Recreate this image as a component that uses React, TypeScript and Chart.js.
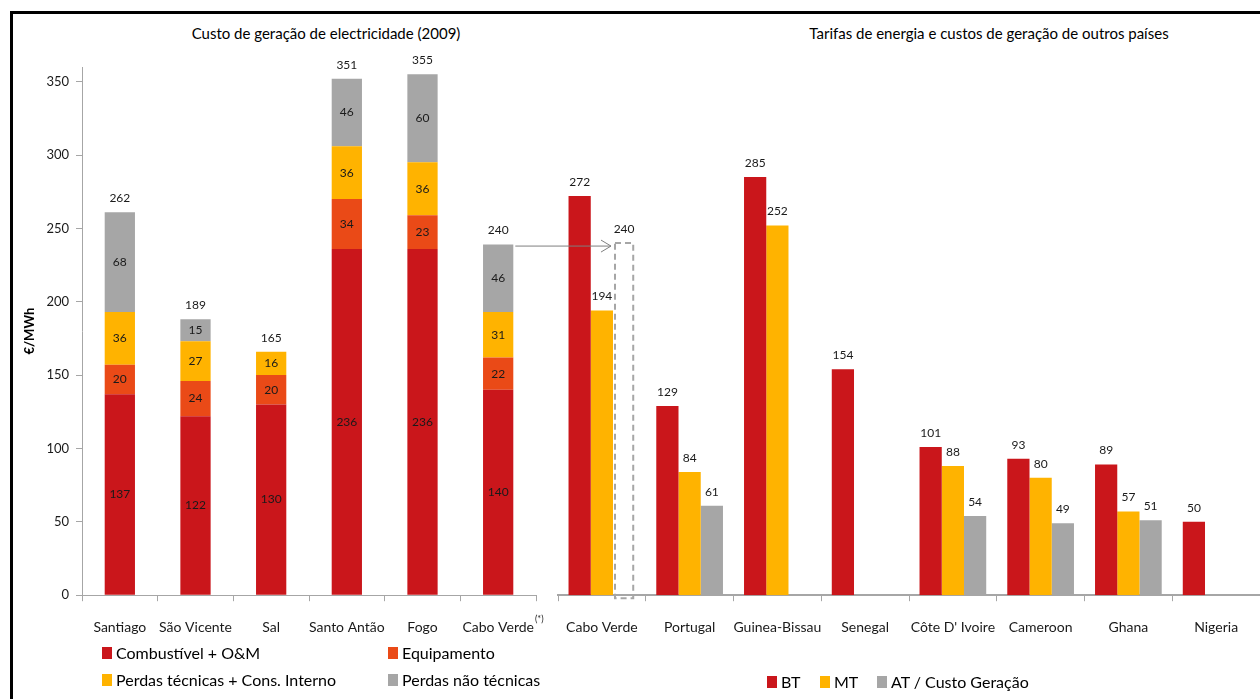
import React, { useEffect, useRef } from "react";
import { Chart, registerables } from "chart.js";

Chart.register(...registerables);

// ---------- data ----------
const islands = ["Santiago", "São Vicente", "Sal", "Santo Antão", "Fogo", "Cabo Verde"];
const combustivel = [137, 122, 130, 236, 236, 140];
const equipamento = [20, 24, 20, 34, 23, 22];
const perdasTecnicas = [36, 27, 16, 36, 36, 31];
const perdasNaoTecnicas = [68, 15, null, 46, 60, 46];
const islandTotals = [262, 189, 165, 351, 355, 240];
const leftSeriesNames = ["Combustível + O&M", "Equipamento", "Perdas técnicas + Cons. Interno", "Perdas não técnicas"];

const countries = ["Cabo Verde", "Portugal", "Guinea-Bissau", "Senegal", "Côte D' Ivoire", "Cameroon", "Ghana", "Nigeria"];
const bt = [272, 129, 285, 154, 101, 93, 89, 50];
const mt = [194, 84, 252, null, 88, 80, 57, null];
const at = [240, 61, null, null, 54, 49, 51, null];
const rightSeriesNames = ["BT", "MT", "AT / Custo Geração"];
const referenceIndex = 0; // AT of Cabo Verde = generation cost from left chart (dashed)

const yTickValues = [0, 50, 100, 150, 200, 250, 300, 350];
const leftTitle = "Custo de geração de electricidade (2009)";
const rightTitle = "Tarifas de energia e custos de geração de outros países";
const yAxisTitle = "€/MWh";

// ---------- styles ----------
const RED = "#CA161B";
const ORANGE = "#EA4A17";
const YELLOW = "#FFB300";
const GRAY = "#A6A6A6";
const AXIS = "#A6A6A6";
const TEXT = "#1a1a1a";
const FONT = "Lato";

const LEFT_X = 0;
const LEFT_W = 545;
const RIGHT_X = 500;
const RIGHT_W = 760;
const H = 699;
const PAD_TOP = 67;
const PAD_BOTTOM = 45;
const TICK_PAD = 18;

const leftLabelsPlugin = {
  id: "leftLabels",
  afterDatasetsDraw(chart: any) {
    const ctx = chart.ctx;
    ctx.save();
    ctx.fillStyle = TEXT;
    ctx.textAlign = "center";
    ctx.textBaseline = "middle";
    ctx.font = `12px ${FONT}`;
    const n = chart.data.labels.length;
    for (let i = 0; i < n; i++) {
      let top = Infinity;
      let cx = 0;
      chart.data.datasets.forEach((ds: any, di: number) => {
        const v = ds.data[i];
        if (v == null) return;
        const el = chart.getDatasetMeta(di).data[i];
        ctx.fillText(String(v), el.x, (el.y + el.base) / 2);
        top = Math.min(top, el.y);
        cx = el.x;
      });
      ctx.fillText(String(islandTotals[i]), cx, top - 14);
    }
    // superscript on last category label
    const xs = chart.scales.x;
    ctx.font = `14px ${FONT}`;
    const w = ctx.measureText(String(chart.data.labels[n - 1])).width;
    ctx.font = `9px ${FONT}`;
    ctx.textAlign = "left";
    ctx.fillText("(*)", xs.getPixelForTick(n - 1) + w / 2 + 1, xs.top + 6 + TICK_PAD);
    ctx.restore();
  },
};

export default function App() {
  const leftRef = useRef<HTMLCanvasElement>(null);
  const rightRef = useRef<HTMLCanvasElement>(null);

  useEffect(() => {
    document.body.style.margin = "0";
    const xAxis = (borderWidth: number) => ({
      grid: { offset: true, drawOnChartArea: false, tickLength: 6, color: AXIS },
      border: { color: AXIS, width: borderWidth },
      ticks: { font: { family: FONT, size: 14 }, color: TEXT, padding: TICK_PAD, maxRotation: 0, autoSkip: false },
      afterFit: (s: any) => {
        s.paddingLeft = 0;
        s.paddingRight = 0;
      },
    });

    const left = new Chart(leftRef.current as HTMLCanvasElement, {
      type: "bar",
      data: {
        labels: islands,
        datasets: [
          { label: leftSeriesNames[0], data: combustivel, backgroundColor: RED },
          { label: leftSeriesNames[1], data: equipamento, backgroundColor: ORANGE },
          { label: leftSeriesNames[2], data: perdasTecnicas, backgroundColor: YELLOW },
          { label: leftSeriesNames[3], data: perdasNaoTecnicas, backgroundColor: GRAY },
        ],
      },
      options: {
        responsive: false,
        animation: false,
        layout: { padding: { top: PAD_TOP, left: 18, right: 9, bottom: PAD_BOTTOM } },
        plugins: { legend: { display: false }, title: { display: false }, tooltip: { enabled: false } },
        datasets: { bar: { barPercentage: 0.4, categoryPercentage: 1 } },
        scales: {
          x: { stacked: true, ...xAxis(1) },
          y: {
            stacked: true,
            min: 0,
            max: 360,
            afterBuildTicks: (s: any) => {
              s.ticks = yTickValues.map((v) => ({ value: v }));
            },
            afterFit: (s: any) => {
              s.width = 64;
            },
            grid: { drawOnChartArea: false, tickLength: 6, color: AXIS },
            border: { color: AXIS },
            ticks: { font: { family: FONT, size: 13 }, color: TEXT, padding: 7 },
            title: { display: true, text: yAxisTitle, font: { family: FONT, size: 13, weight: "bold" }, color: "#000" },
          },
        },
      } as any,
      plugins: [leftLabelsPlugin],
    });

    const rightPlugin = {
      id: "rightLabels",
      afterDatasetsDraw(chart: any) {
        const ctx = chart.ctx;
        ctx.save();
        // dashed reference box
        const ref = chart.getDatasetMeta(2).data[referenceIndex];
        ctx.strokeStyle = GRAY;
        ctx.lineWidth = 2;
        ctx.setLineDash([6, 4]);
        ctx.strokeRect(ref.x - ref.width / 2 + 2, ref.y, ref.width - 4, ref.base - ref.y + 3);
        ctx.setLineDash([]);
        // arrow from left chart's stack
        const lmeta = left.getDatasetMeta(3).data[referenceIndex + islands.length - 1] as any;
        const x0 = lmeta.x + lmeta.width / 2 + LEFT_X - RIGHT_X + 2;
        const yA = chart.scales.y.getPixelForValue(at[referenceIndex] as number) + 3;
        const x1 = ref.x - ref.width / 2 - 2;
        ctx.strokeStyle = "#7F7F7F";
        ctx.lineWidth = 1;
        ctx.beginPath();
        ctx.moveTo(x0, yA);
        ctx.lineTo(x1, yA);
        ctx.moveTo(x1 - 10, yA - 6);
        ctx.lineTo(x1, yA);
        ctx.lineTo(x1 - 10, yA + 6);
        ctx.stroke();
        // value labels
        ctx.fillStyle = TEXT;
        ctx.textAlign = "center";
        ctx.textBaseline = "middle";
        ctx.font = `12px ${FONT}`;
        chart.data.datasets.forEach((ds: any, di: number) => {
          chart.getDatasetMeta(di).data.forEach((el: any, i: number) => {
            const v = ds.data[i];
            if (v == null) return;
            ctx.fillText(String(v), el.x, el.y - 14);
          });
        });
        ctx.restore();
      },
    };

    const right = new Chart(rightRef.current as HTMLCanvasElement, {
      type: "bar",
      data: {
        labels: countries,
        datasets: [
          { label: rightSeriesNames[0], data: bt, backgroundColor: RED },
          { label: rightSeriesNames[1], data: mt, backgroundColor: YELLOW },
          {
            label: rightSeriesNames[2],
            data: at,
            backgroundColor: at.map((_, i) => (i === referenceIndex ? "rgba(0,0,0,0)" : GRAY)),
          },
        ],
      },
      options: {
        responsive: false,
        animation: false,
        layout: { padding: { top: PAD_TOP, left: 58, right: 0, bottom: PAD_BOTTOM } },
        plugins: { legend: { display: false }, title: { display: false }, tooltip: { enabled: false } },
        datasets: { bar: { barPercentage: 1, categoryPercentage: 0.76 } },
        scales: {
          x: xAxis(2),
          y: { display: false, min: 0, max: 360 },
        },
      } as any,
      plugins: [rightPlugin],
    });

    return () => {
      right.destroy();
      left.destroy();
    };
  }, []);

  const legendItem = (label: string, color: string, x: number, y: number) => (
    <div key={label} style={{ position: "absolute", left: x, top: y - 10, height: 20, display: "flex", alignItems: "center", whiteSpace: "nowrap" }}>
      <span style={{ display: "inline-block", width: 10, height: 12, background: color, marginRight: 4 }} />
      <span style={{ fontSize: 16, lineHeight: "20px", color: "#000" }}>{label}</span>
    </div>
  );

  const leftColors = [RED, ORANGE, YELLOW, GRAY];
  const leftPos = [
    [102, 653],
    [388, 653],
    [102, 680],
    [388, 680],
  ];
  const rightColors = [RED, YELLOW, GRAY];
  const rightPos = [
    [767, 682],
    [820, 682],
    [877, 682],
  ];

  const titleStyle = (cx: number): React.CSSProperties => ({
    position: "absolute",
    left: cx,
    top: 24,
    transform: "translateX(-50%)",
    fontSize: 15,
    lineHeight: "18px",
    whiteSpace: "nowrap",
    color: "#000",
  });

  return (
    <div style={{ position: "fixed", left: 0, top: 0, width: 1260, height: H, overflow: "hidden", background: "#fff", fontFamily: FONT }}>
      <div style={{ position: "absolute", left: 10, top: 11, width: 1400, height: 900, border: "3px solid #000" }} />
      <div style={titleStyle(326)}>{leftTitle}</div>
      <div style={titleStyle(989)}>{rightTitle}</div>
      <canvas ref={leftRef} width={LEFT_W} height={H} style={{ position: "absolute", left: LEFT_X, top: 0, width: LEFT_W, height: H }} />
      <canvas ref={rightRef} width={RIGHT_W} height={H} style={{ position: "absolute", left: RIGHT_X, top: 0, width: RIGHT_W, height: H }} />
      {leftSeriesNames.map((n, i) => legendItem(n, leftColors[i], leftPos[i][0], leftPos[i][1]))}
      {rightSeriesNames.map((n, i) => legendItem(n, rightColors[i], rightPos[i][0], rightPos[i][1]))}
    </div>
  );
}
